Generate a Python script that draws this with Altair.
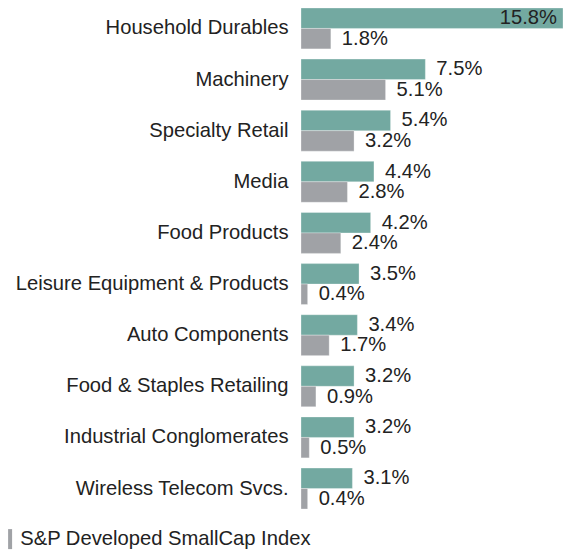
import altair as alt
import pandas as pd

categories = [
    "Household Durables",
    "Machinery",
    "Specialty Retail",
    "Media",
    "Food Products",
    "Leisure Equipment & Products",
    "Auto Components",
    "Food & Staples Retailing",
    "Industrial Conglomerates",
    "Wireless Telecom Svcs.",
]
fund_values = [15.8, 7.5, 5.4, 4.4, 4.2, 3.5, 3.4, 3.2, 3.2, 3.1]
index_values = [1.8, 5.1, 3.2, 2.8, 2.4, 0.4, 1.7, 0.9, 0.5, 0.4]
series = ["Fund", "S&P Developed SmallCap Index"]
colors = ["#73A9A1", "#A0A2A6"]

rows = []
for c, f, i in zip(categories, fund_values, index_values):
    rows.append({"category": c, "series": series[0], "value": f})
    rows.append({"category": c, "series": series[1], "value": i})
df = pd.DataFrame(rows)
df["label"] = df["value"].map(lambda v: f"{v:.1f}%")

FONT = "Liberation Sans"
FS = 20.2
TXT = "#222222"

y = alt.Y(
    "category:N",
    sort=categories,
    scale=alt.Scale(paddingInner=0.2, paddingOuter=0),
    axis=alt.Axis(
        title=None, domain=False, ticks=False, labelFont=FONT, labelFontSize=FS,
        labelColor=TXT, labelPadding=13, labelLimit=400,
    ),
)
yoff = alt.YOffset("series:N", sort=series, scale=alt.Scale(domain=series))
x = alt.X("value:Q", scale=alt.Scale(domain=[0, 15.8], nice=False, zero=True), axis=None)

bars = alt.Chart(df).mark_bar(stroke="#ffffff", strokeWidth=0.5, strokeOpacity=0.6).encode(
    x=x,
    y=y,
    yOffset=yoff,
    color=alt.Color(
        "series:N",
        scale=alt.Scale(domain=series, range=colors),
        legend=alt.Legend(
            values=[series[1]], title=None, orient="none", legendX=-301, legendY=521,
            padding=0, symbolType="M-0.2,-1H0.2V1H-0.2Z", symbolSize=400,
            symbolStrokeWidth=0, labelFont=FONT, labelFontSize=FS, labelColor=TXT,
            labelOffset=0, labelLimit=400,
        ),
    ),
)

outside = alt.Chart(df).transform_filter("datum.value < 10").mark_text(
    align="left", baseline="middle", dx=11, font=FONT, fontSize=FS, color=TXT
).encode(x=x, y=y, yOffset=yoff, text="label:N")

inside = alt.Chart(df).transform_filter("datum.value >= 10").mark_text(
    align="right", baseline="middle", dx=-6, font=FONT, fontSize=FS, color=TXT
).encode(x=x, y=y, yOffset=yoff, text="label:N")

chart = (
    alt.layer(bars, outside, inside)
    .properties(
        width=262,
        height=501,
        autosize=alt.AutoSizeParams(type="none"),
        padding={"left": 293, "top": 0, "right": 0, "bottom": 41},
    )
    .configure_view(stroke=None)
)

chart.save("out.html", embed_options={"renderer": "svg", "actions": False})
